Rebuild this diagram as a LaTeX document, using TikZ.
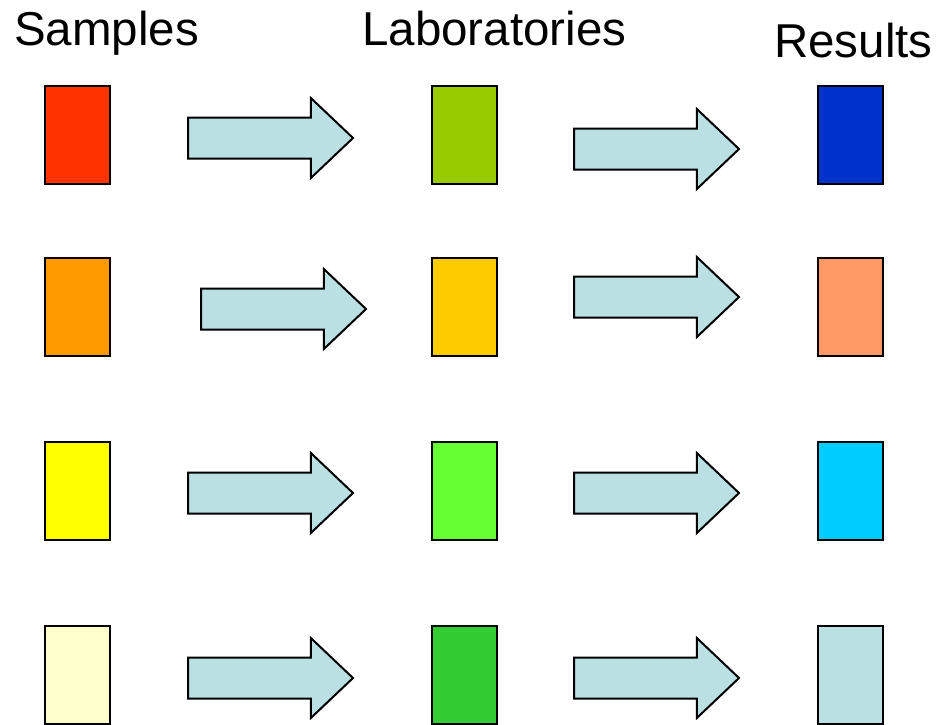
\documentclass[tikz,border=0pt]{standalone}
\usepackage{fontspec}
\setmainfont{Liberation Sans}
\usepackage{tikz}
\usetikzlibrary{shapes.arrows}
\definecolor{flowblue}{HTML}{BBE0E3}
\tikzstyle{box}=[draw, line width=2pt, inner sep=0pt, minimum width=65pt, minimum height=98pt]
\tikzstyle{flow}=[draw, line width=2pt, fill=flowblue, single arrow, inner xsep=0pt, inner ysep=19.5pt,
  minimum height=165pt, single arrow head extend=19.5pt,
  single arrow tip angle=87, anchor=tail]
\tikzstyle{title}=[inner sep=0pt, anchor=base west, font=\fontsize{47.5}{50}\selectfont]

\begin{document}
\begin{tikzpicture}[x=1pt, y=-1pt]
        \useasboundingbox (0,0) rectangle (939,724);
        \node[title] (tsamp) at (14,45) {Samples};
        \node[title] (tlab)  at (362,45) {Laboratories};
        \node[title] (tres)  at (774,57) {Results};
        % samples
        \node[box, fill={rgb,255:red,255;green,51;blue,0}]    (samp1) at (77.5,135) {};
        \node[box, fill={rgb,255:red,255;green,153;blue,0}]   (samp2) at (77.5,307) {};
        \node[box, fill={rgb,255:red,255;green,255;blue,0}]   (samp3) at (77.5,491) {};
        \node[box, fill={rgb,255:red,255;green,255;blue,204}] (samp4) at (77.5,675) {};
        % laboratories
        \node[box, fill={rgb,255:red,153;green,204;blue,0}]   (lab1) at (464,135) {};
        \node[box, fill={rgb,255:red,255;green,204;blue,0}]   (lab2) at (464,307) {};
        \node[box, fill={rgb,255:red,102;green,255;blue,51}]  (lab3) at (464,491) {};
        \node[box, fill={rgb,255:red,51;green,204;blue,51}]   (lab4) at (464,675) {};
        % results
        \node[box, fill={rgb,255:red,0;green,51;blue,204}]    (res1) at (850.5,135) {};
        \node[box, fill={rgb,255:red,255;green,153;blue,102}] (res2) at (850.5,307) {};
        \node[box, fill={rgb,255:red,0;green,204;blue,255}]   (res3) at (850.5,491) {};
        \node[box, fill=flowblue]                             (res4) at (850.5,675) {};
        % arrows
        \node[flow] (sl1) at (187,138) {};
        \node[flow] (sl2) at (200,309) {};
        \node[flow] (sl3) at (187,493) {};
        \node[flow] (sl4) at (187,678) {};
        \node[flow] (lr1) at (573,149) {};
        \node[flow] (lr2) at (573,297) {};
        \node[flow] (lr3) at (573,493) {};
        \node[flow] (lr4) at (573,678) {};
    \end{tikzpicture}
\end{document}
